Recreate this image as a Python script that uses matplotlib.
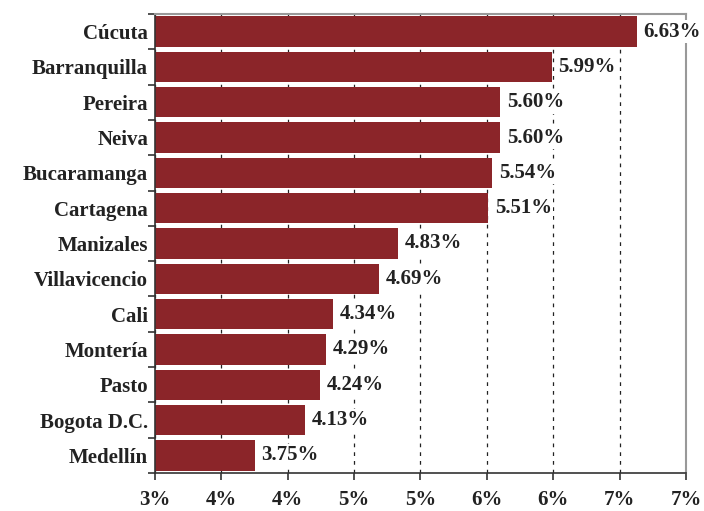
import numpy as np
import matplotlib
matplotlib.use('Agg')
import matplotlib.pyplot as plt
from matplotlib.ticker import FuncFormatter

ciudades = ["Cúcuta", "Barranquilla", "Pereira", "Neiva", "Bucaramanga", "Cartagena",
            "Manizales", "Villavicencio", "Cali", "Montería", "Pasto", "Bogota D.C.", "Medellín"]
valores = [6.63, 5.99, 5.60, 5.60, 5.54, 5.51, 4.83, 4.69, 4.34, 4.29, 4.24, 4.13, 3.75]
etiquetas = ["6.63%", "5.99%", "5.60%", "5.60%", "5.54%", "5.51%", "4.83%", "4.69%",
             "4.34%", "4.29%", "4.24%", "4.13%", "3.75%"]

plt.rcParams['font.family'] = ['Liberation Serif', 'DejaVu Serif']
plt.rcParams['font.weight'] = 'bold'

fig = plt.figure(figsize=(7.04, 5.11), dpi=100)
ax = fig.add_axes([0.2202, 0.0744, 0.7542, 0.8982])

y = np.arange(len(ciudades))
ax.barh(y, [v - 3 for v in valores], left=3, height=0.86, color='#8B2529', zorder=2)

for i in range(len(valores)):
    ax.text(valores[i] + 0.05, y[i], etiquetas[i], va='center', ha='left',
            fontsize=15, fontweight='bold', color='#222222', zorder=3,
            bbox=dict(facecolor='white', edgecolor='none', pad=1.0))

ax.set_xlim(3, 7)
ax.set_ylim(len(ciudades) - 0.5, -0.5)
ax.set_xticks(np.arange(3, 7.01, 0.5))
ax.xaxis.set_major_formatter(FuncFormatter(lambda v, p: "%d%%" % int(v + 0.5)))
ax.set_yticks(y)
ax.set_yticklabels(ciudades, fontsize=15, fontweight='bold', color='#222222')
ax.set_yticks(np.arange(-0.5, len(ciudades), 1), minor=True)
ax.tick_params(axis='y', which='major', length=0, pad=5)
ax.tick_params(axis='y', which='minor', length=5, width=1.2, color='#333333')
ax.tick_params(axis='x', length=5, width=1.2, color='#333333', labelsize=15, pad=7, labelcolor='#222222')
for lab in ax.get_xticklabels():
    lab.set_fontweight('bold')

ax.xaxis.grid(True, linestyle=(0, (3, 4)), color='#222222', linewidth=0.9, zorder=0)
ax.set_axisbelow(True)

ax.spines['left'].set_color('#333333')
ax.spines['left'].set_linewidth(1.2)
ax.spines['bottom'].set_color('#333333')
ax.spines['bottom'].set_linewidth(1.2)
ax.spines['top'].set_color('#999999')
ax.spines['top'].set_linewidth(1.5)
ax.spines['right'].set_color('#999999')
ax.spines['right'].set_linewidth(1.5)

fig.savefig('out.png', dpi=100)
